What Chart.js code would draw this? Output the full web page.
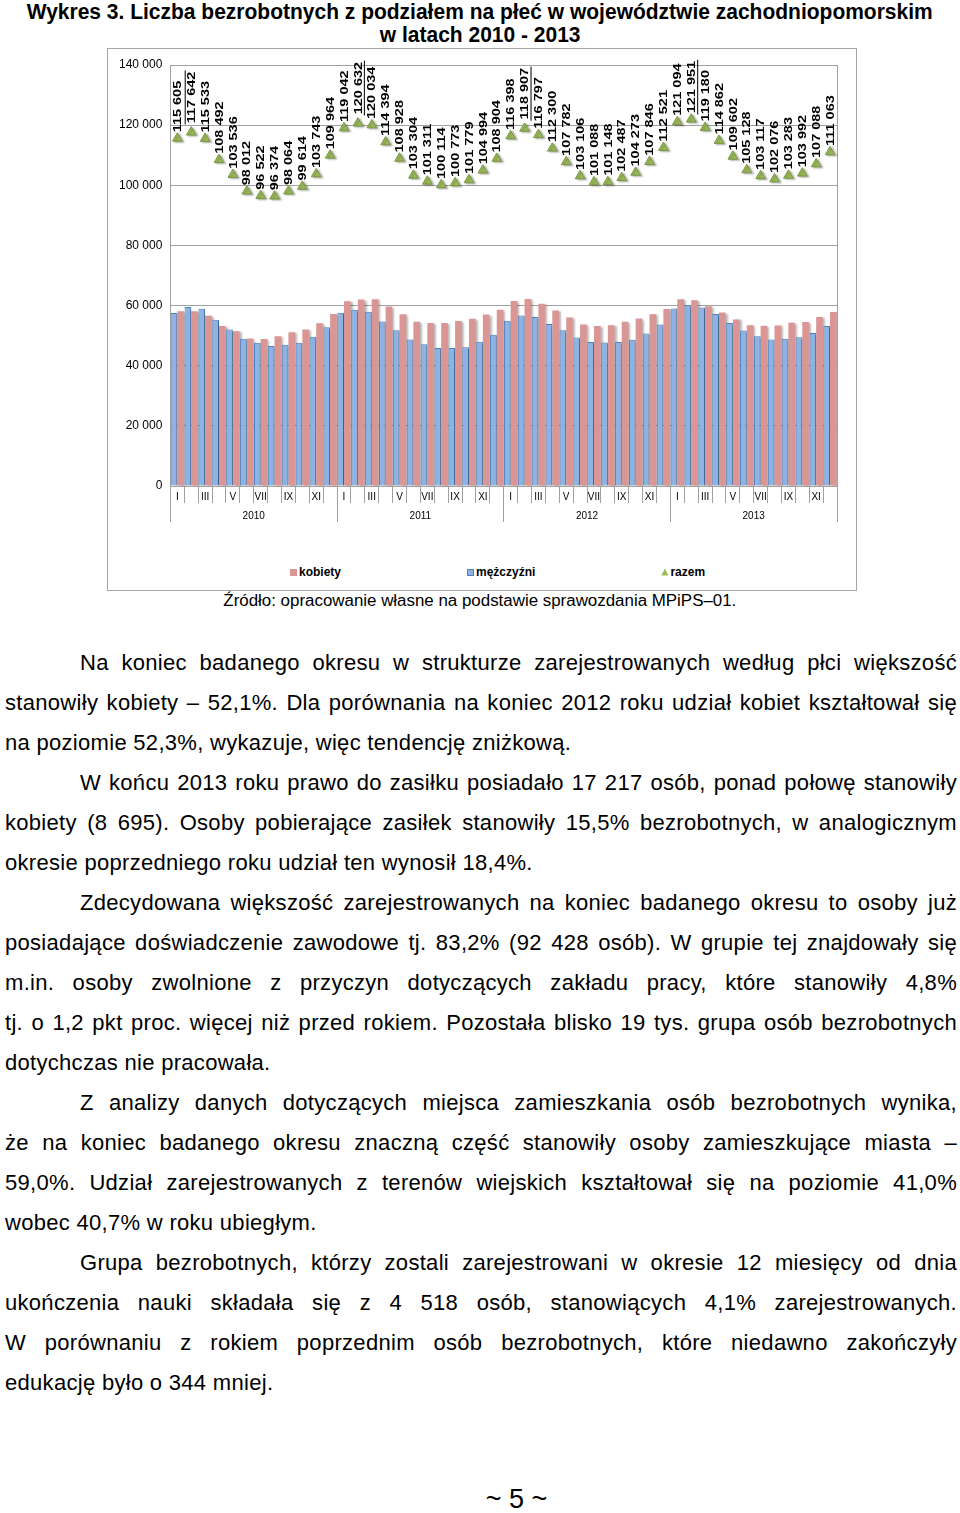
<!DOCTYPE html>
<html lang="pl">
<head>
<meta charset="utf-8">
<title>Wykres 3</title>
<script src="https://cdn.jsdelivr.net/npm/chart.js@4.4.1/dist/chart.umd.min.js"></script>
<style>
  html, body { margin: 0; padding: 0; background: #fff; }
  body { width: 960px; height: 1513px; position: relative; overflow: hidden;
         font-family: Arial, "Liberation Sans", sans-serif; color: #000; }
  .fit { position: absolute; left: 0; width: 960px; text-align: center; white-space: nowrap; }
  .fit span { display: inline-block; transform-origin: center center; }
  .title { font-weight: bold; font-size: 22px; line-height: 24px; }
  #box { position: absolute; left: 107px; top: 48px; width: 750px; height: 543px;
         border: 1px solid #a6a6a6; box-sizing: border-box; }
  #chartWrap { position: absolute; left: 108px; top: 49px; width: 748px; height: 490px; }
  #legend { position: absolute; top: 564px; left: 290px; display: flex; gap: 126px;
            font-weight: bold; font-size: 12px; line-height: 16px; white-space: nowrap; }
  #legend .item { display: flex; align-items: center; }
  #legend .mk { display: inline-block; width: 7px; height: 7px; margin-right: 2px; box-sizing: border-box; }
  #source { top: 590px; font-size: 16px; line-height: 22px; }
  #text { position: absolute; left: 5px; top: 643px; width: 952px; font-size: 22px; line-height: 40px;
          letter-spacing: 0.3px; }
  #text div { white-space: nowrap; height: 40px; }
  #text .full { text-align: justify; text-align-last: justify; }
  #text .ind { padding-left: 75px; }
  #pageNo { position: absolute; top: 1484px; left: 0; width: 1033px; text-align: center; font-size: 27px; }
</style>
</head>
<body>

<div class="fit title" style="top:0"><span id="t1">Wykres 3. Liczba bezrobotnych z podziałem na płeć w województwie zachodniopomorskim</span></div>
<div class="fit title" style="top:23px"><span id="t2">w latach 2010 - 2013</span></div>

<div id="box"></div>
<div id="chartWrap"><canvas id="chart-bezrobotni"></canvas></div>
<div id="legend"></div>

<div class="fit" id="source"><span id="src">Źródło: opracowanie własne na podstawie sprawozdania MPiPS–01.</span></div>

<div id="text"></div>
<div id="pageNo">~ 5 ~</div>

<script>
// Liczba bezrobotnych wg płci, woj. zachodniopomorskie, 2010-2013 (stan na koniec miesiąca)
const years = ['2010', '2011', '2012', '2013'];
const months = ['I', 'II', 'III', 'IV', 'V', 'VI', 'VII', 'VIII', 'IX', 'X', 'XI', 'XII'];

const kobiety = [
  58110, 58080, 56620, 53210, 51490, 49010, 48890, 49800, 51090, 52010, 54120, 57200,
  61420, 62010, 62100, 59690, 57120, 54580, 54190, 54210, 54880, 55610, 57010, 58590,
  61480, 62210, 60590, 58390, 56010, 53700, 53210, 53420, 54600, 55680, 57100, 58850,
  62090, 61810, 59790, 57680, 55390, 53420, 53310, 53400, 54280, 54510, 56190, 57864
];
const mezczyzni = [
  57495, 59562, 58913, 55282, 52046, 49002, 47632, 46574, 46974, 47604, 49623, 52764,
  57622, 58622, 57934, 54704, 51808, 48724, 47121, 45904, 45893, 46169, 47984, 50314,
  54918, 56697, 56207, 53910, 51772, 49406, 47878, 47728, 47887, 48593, 50746, 53671,
  59004, 60141, 59390, 57182, 54212, 51708, 49807, 48676, 49003, 49482, 50898, 53199
];
const razem = [
  115605, 117642, 115533, 108492, 103536, 98012, 96522, 96374, 98064, 99614, 103743, 109964,
  119042, 120632, 120034, 114394, 108928, 103304, 101311, 100114, 100773, 101779, 104994, 108904,
  116398, 118907, 116797, 112300, 107782, 103106, 101088, 101148, 102487, 104273, 107846, 112521,
  121094, 121951, 119180, 114862, 109602, 105128, 103117, 102076, 103283, 103992, 107088, 111063
];
// labels with a line drawn next to them in the original (yearly maxima)
const markedLabels = [1, 13, 25, 37];

const yTicks = [0, 20000, 40000, 60000, 80000, 100000, 120000, 140000];

const labels = [];
years.forEach(y => months.forEach(m => labels.push(m + ' ' + y)));

const fmt = v => String(v).replace(/\B(?=(\d{3})+(?!\d))/g, ' ');

const GRID = '#a0a0a0';

// rotated value labels above the triangles
const pointLabels = {
  id: 'pointLabels',
  afterDatasetsDraw(chart) {
    const meta = chart.getDatasetMeta(2);
    const ctx = chart.ctx;
    ctx.save();
    ctx.font = 'bold 11.5px Arial';
    ctx.fillStyle = '#000';
    ctx.textBaseline = 'middle';
    ctx.textAlign = 'left';
    meta.data.forEach((pt, i) => {
      const txt = fmt(razem[i]);
      const w = ctx.measureText(txt).width;
      const lift = markedLabels.includes(i) && i !== 37 ? 9 : 6;
      ctx.save();
      ctx.translate(pt.x + 0.5, pt.y - lift);
      ctx.rotate(-Math.PI / 2);
      ctx.scale(1.26, 1);
      ctx.fillText(txt, 0, 0);
      if (markedLabels.includes(i)) {
        ctx.fillRect(-1, i === 1 ? -7 : 5.5, w + 2, 1);
      }
      ctx.restore();
    });
    ctx.restore();
  }
};

// soft shadow under the marks, like the office chart
const shadows = {
  id: 'shadows',
  beforeDatasetDraw(chart) {
    const ctx = chart.ctx;
    ctx.save();
    ctx.shadowColor = 'rgba(0,0,0,0.28)';
    ctx.shadowOffsetX = 2;
    ctx.shadowOffsetY = 1;
    ctx.shadowBlur = 2;
  },
  afterDatasetDraw(chart) {
    chart.ctx.restore();
  }
};

const chart = new Chart(document.getElementById('chart-bezrobotni'), {
  type: 'bar',
  data: {
    labels: labels,
    datasets: [
      {
        label: 'kobiety',
        data: kobiety,
        backgroundColor: '#da9694',
        borderColor: '#d48683',
        borderWidth: 0,
        categoryPercentage: 0.96,
        barPercentage: 1.0,
        order: 2
      },
      {
        label: 'mężczyźni',
        data: mezczyzni,
        backgroundColor: '#8db3e2',
        borderColor: '#4f7fc0',
        borderWidth: 1,
        categoryPercentage: 0.96,
        barPercentage: 1.0,
        order: 1
      },
      {
        type: 'line',
        label: 'razem',
        data: razem,
        showLine: false,
        pointStyle: 'triangle',
        pointRadius: 5.6,
        pointBackgroundColor: '#9bbb59',
        pointBorderColor: '#7c9844',
        pointBorderWidth: 1,
        order: 0
      }
    ]
  },
  options: {
    responsive: true,
    maintainAspectRatio: false,
    animation: false,
    events: [],
    layout: { padding: { left: 3, right: 11, top: 16, bottom: 17 } },
    plugins: {
      legend: { display: false },
      tooltip: { enabled: false }
    },
    scales: {
      x: {
        weight: 1,
        offset: true,
        grid: { offset: true, drawOnChartArea: false, tickLength: 17, color: GRID, tickColor: GRID },
        border: { display: true, color: GRID },
        ticks: {
          autoSkip: false,
          maxRotation: 0,
          crossAlign: 'far',
          padding: -6,
          color: '#000',
          font: { family: 'Arial', size: 10 },
          callback: (v, i) => (i % 2 === 0 ? months[i % 12] : '')
        }
      },
      x2: {
        type: 'category',
        labels: years,
        position: 'bottom',
        weight: 2,
        offset: true,
        grid: { offset: true, drawOnChartArea: false, tickLength: 19, color: GRID, tickColor: GRID },
        border: { display: false },
        ticks: {
          crossAlign: 'far',
          padding: -6,
          color: '#000',
          font: { family: 'Arial', size: 10 }
        }
      },
      y: {
        min: 0,
        max: 140000,
        afterBuildTicks: axis => { axis.ticks = yTicks.map(v => ({ value: v })); },
        grid: { color: GRID, drawTicks: false },
        border: { display: true, color: GRID },
        ticks: {
          padding: 8,
          color: '#000',
          font: { family: 'Arial', size: 12 },
          callback: v => fmt(v)
        }
      },
      yRight: {
        position: 'right',
        min: 0,
        max: 140000,
        grid: { display: false },
        border: { display: true, color: GRID },
        ticks: { display: false }
      }
    }
  },
  plugins: [shadows, pointLabels]
});

// html legend built from the chart's datasets
const legendBox = document.getElementById('legend');
chart.data.datasets.forEach(ds => {
  const item = document.createElement('div');
  item.className = 'item';
  const mk = document.createElement('span');
  mk.className = 'mk';
  if (ds.type === 'line') {
    mk.style.background = ds.pointBackgroundColor;
    mk.style.clipPath = 'polygon(50% 0, 100% 100%, 0 100%)';
  } else {
    mk.style.background = ds.backgroundColor;
    if (ds.borderWidth) mk.style.border = '1px solid ' + ds.borderColor;
  }
  item.appendChild(mk);
  item.appendChild(document.createTextNode(ds.label));
  legendBox.appendChild(item);
});

// body text, one div per printed line
const lines = [
  ['Na koniec badanego okresu w strukturze zarejestrowanych według płci większość', 'ind full'],
  ['stanowiły kobiety – 52,1%. Dla porównania na koniec 2012 roku udział kobiet kształtował się', 'full'],
  ['na poziomie 52,3%, wykazuje, więc tendencję zniżkową.', ''],
  ['W końcu 2013 roku prawo do zasiłku posiadało 17 217 osób, ponad połowę stanowiły', 'ind full'],
  ['kobiety (8 695). Osoby pobierające zasiłek stanowiły 15,5% bezrobotnych, w analogicznym', 'full'],
  ['okresie poprzedniego roku udział ten wynosił 18,4%.', ''],
  ['Zdecydowana większość zarejestrowanych na koniec badanego okresu to osoby już', 'ind full'],
  ['posiadające doświadczenie zawodowe tj. 83,2% (92 428 osób). W grupie tej znajdowały się', 'full'],
  ['m.in. osoby zwolnione z przyczyn dotyczących zakładu pracy, które stanowiły 4,8%', 'full'],
  ['tj. o 1,2 pkt proc. więcej niż przed rokiem. Pozostała blisko 19 tys. grupa osób bezrobotnych', 'full'],
  ['dotychczas nie pracowała.', ''],
  ['Z analizy danych dotyczących miejsca zamieszkania osób bezrobotnych wynika,', 'ind full'],
  ['że na koniec badanego okresu znaczną część stanowiły osoby zamieszkujące miasta –', 'full'],
  ['59,0%. Udział zarejestrowanych z terenów wiejskich kształtował się na poziomie 41,0%', 'full'],
  ['wobec 40,7% w roku ubiegłym.', ''],
  ['Grupa bezrobotnych, którzy zostali zarejestrowani w okresie 12 miesięcy od dnia', 'ind full'],
  ['ukończenia nauki składała się z 4 518 osób, stanowiących 4,1% zarejestrowanych.', 'full'],
  ['W porównaniu z rokiem poprzednim osób bezrobotnych, które niedawno zakończyły', 'full'],
  ['edukację było o 344 mniej.', '']
];
const textBox = document.getElementById('text');
lines.forEach(([t, cls]) => {
  const d = document.createElement('div');
  d.className = cls;
  d.textContent = t;
  textBox.appendChild(d);
});

// squeeze title/source to the printed width
function fitWidth(id, target, alsoId) {
  const el = document.getElementById(id);
  const k = target / el.getBoundingClientRect().width;
  el.style.transform = 'scaleX(' + k + ')';
  if (alsoId) document.getElementById(alsoId).style.transform = 'scaleX(' + k + ')';
}
fitWidth('t1', 906, 't2');
fitWidth('src', 513);
</script>
</body>
</html>
